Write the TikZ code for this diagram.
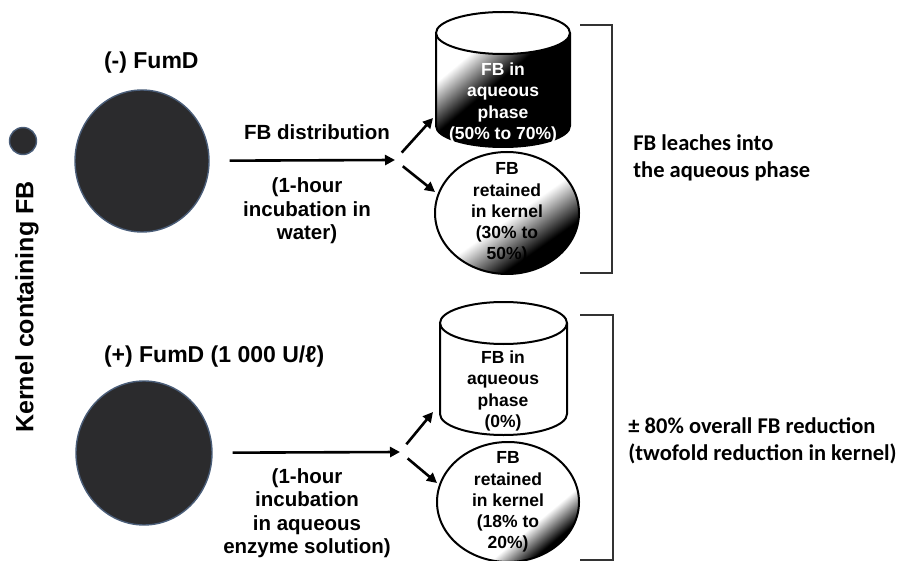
\documentclass[tikz,border=0pt]{standalone}
\usepackage{fontspec}
\setmainfont{Liberation Sans}
\newfontfamily\notefont{Carlito}
\usetikzlibrary{shapes.geometric,arrows.meta}
\definecolor{kerngray}{HTML}{2B2B2D}
\definecolor{kernedge}{HTML}{4A5D78}
\pgfdeclarehorizontalshading{tankshade}{100bp}{color(0bp)=(white); color(30bp)=(white); color(46bp)=(black); color(100bp)=(black)}
\pgfdeclarehorizontalshading{retainA}{100bp}{color(0bp)=(white); color(52bp)=(white); color(68bp)=(black); color(100bp)=(black)}
\pgfdeclarehorizontalshading{retainB}{100bp}{color(0bp)=(white); color(63bp)=(white); color(73bp)=(black); color(100bp)=(black)}
\tikzset{
  kernel/.style={ellipse, fill=kerngray, draw=kernedge, line width=0.7pt, inner sep=0pt},
  flow/.style={-{Triangle[length=5pt,width=5pt]}, line width=1.3pt},
  blob/.style={ellipse, draw, line width=1pt, inner sep=0pt},
  lbl/.style={font=\bfseries\fontsize{10.25}{11.75}\selectfont, align=center},
  head/.style={font=\bfseries\fontsize{11.5}{13}\selectfont, anchor=west},
  inside/.style={font=\bfseries\fontsize{8.75}{10.6}\selectfont, align=center},
  note/.style={font=\notefont\bfseries\fontsize{11.25}{13.5}\selectfont, align=left, anchor=west, inner sep=0pt},
  rim/.style={line width=1pt, draw=black!80}
}
\begin{document}
\begin{tikzpicture}[x=0.5pt,y=0.5pt]
\useasboundingbox (0,0) rectangle (899,-561);
\node[kernel, minimum size=13.5pt] (fbdot) at (23,-141) {};
\node[rotate=90, font=\bfseries\fontsize{12.5}{14}\selectfont] (side) at (27,-307) {Kernel containing FB};
\begin{scope}
\node[head] (minus) at (97,-63) {(-) FumD};
\node[kernel, minimum width=67pt, minimum height=71pt] (k1) at (142,-161) {};
\node[lbl] (dist) at (317,-132) {FB distribution};
\node[lbl] (inc1) at (307,-211) {(1-hour\\incubation in\\water)};
\coordinate (fork1) at (395,-160);
\coordinate (up1) at (433,-118);
\coordinate (dn1) at (435,-192);
\draw[flow, shorten <=10pt] (k1) -- (fork1);
\draw[flow, shorten <=5pt] (fork1) -- (up1);
\draw[flow, shorten <=5pt] (fork1) -- (dn1);
\shade[shading=tankshade, shading angle=-50] (436,-33) -- (436,-126) arc[start angle=180, end angle=360, x radius=67, y radius=21] -- (570,-33) -- cycle;
\draw[line width=1pt] (436,-33) -- (436,-126) arc[start angle=180, end angle=360, x radius=67, y radius=21] -- (570,-33);
\filldraw[fill=white, line width=1pt] (503,-33) ellipse [x radius=67, y radius=21];
\node[inside, text=white] (aq1) at (503,-103) {FB in\\aqueous\\phase\\(50\% to 70\%)};
\node[blob, minimum width=72pt, minimum height=61pt, shade, shading=retainA, shading angle=-55] (ret1) at (507,-213) {};
\node[inside] (ret1txt) at (ret1) {FB\\retained\\in kernel\\(30\% to\\50\%)};
\draw[rim] (580,-25) -- (612,-25) -- (612,-273) -- (580,-273);
\node[note] (leach) at (633,-158) {FB leaches into\\the aqueous phase};
\end{scope}
\begin{scope}
\node[head] (plus) at (97,-357) {(+) FumD (1 000 U/ℓ)};
\node[kernel, minimum width=68pt, minimum height=72pt] (k2) at (144,-453) {};
\node[lbl] (inc2) at (307,-513) {(1-hour\\incubation\\in aqueous\\enzyme solution)};
\coordinate (fork2) at (400,-452);
\coordinate (up2) at (433,-412);
\coordinate (dn2) at (437,-483);
\draw[flow, shorten <=10pt] (k2) -- (fork2);
\draw[flow, shorten <=5pt] (fork2) -- (up2);
\draw[flow, shorten <=5pt] (fork2) -- (dn2);
\filldraw[fill=white, line width=1pt] (440,-323) -- (440,-414) arc[start angle=180, end angle=360, x radius=63.5, y radius=21] -- (567,-323);
\filldraw[fill=white, line width=1pt] (503.5,-323) ellipse [x radius=63.5, y radius=21];
\node[inside] (aq2) at (503,-391) {FB in\\aqueous\\phase\\(0\%)};
\node[blob, minimum width=71pt, minimum height=60pt, shade, shading=retainB, shading angle=-50] (ret2) at (508,-502) {};
\node[inside] (ret2txt) at (ret2) {FB\\retained\\in kernel\\(18\% to\\20\%)};
\draw[rim] (580,-315) -- (613,-315) -- (613,-560) -- (580,-560);
\node[note] (reduce) at (628,-441) {± 80\% overall FB reduction\\(twofold reduction in kernel)};
\end{scope}
\end{tikzpicture}
\end{document}
